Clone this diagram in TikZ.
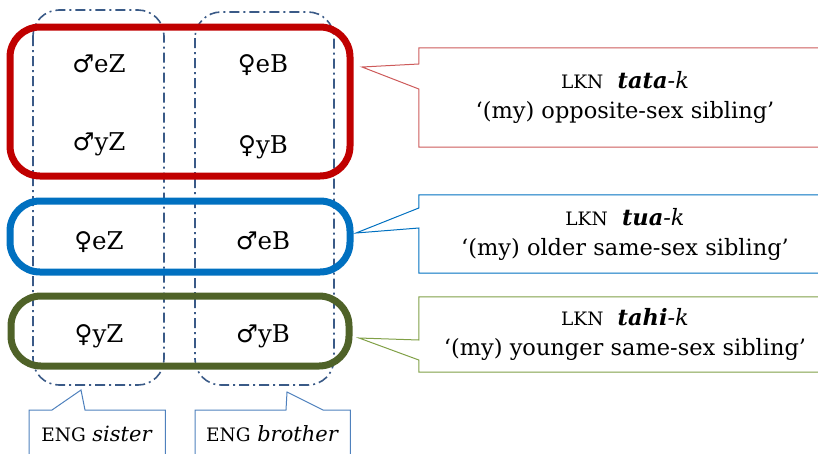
\documentclass[tikz,border=0pt]{standalone}
\usepackage{fontspec}
\setmainfont{DejaVu Serif}
\newfontfamily\symfont{DejaVu Sans}
\usetikzlibrary{calc}
\definecolor{grpred}{RGB}{192,0,0}
\definecolor{grpblue}{RGB}{0,112,192}
\definecolor{grpgreen}{RGB}{79,98,40}
\definecolor{colline}{RGB}{58,90,135}
\definecolor{tatared}{RGB}{205,90,90}
\definecolor{tahigreen}{RGB}{128,160,70}
\definecolor{engblue}{RGB}{79,129,189}
\newcommand{\msym}{{\symfont ♂}}
\newcommand{\fsym}{{\symfont ♀}}
\newcommand{\langtag}[1]{{\fontsize{18.5}{20}\selectfont #1}}

\begin{document}
\begin{tikzpicture}[x=1pt, y=-1pt,
    col/.style={colline, line width=1.6pt, rounded corners=26pt,
        dash pattern=on 10pt off 4pt on 2pt off 4pt},
    grp/.style={line width=7pt, rounded corners=30pt},
    kin/.style={anchor=base, font=\fontsize{24.5}{28}\selectfont},
    lkn/.style={align=center, font=\fontsize{22.5}{30}\selectfont,
        minimum width=412},
    eng/.style={anchor=base, font=\fontsize{21}{24}\selectfont},
    callout/.style={line width=1pt}]
    \useasboundingbox (0,0) rectangle (818,453);

    % English categories: sister / brother
    \draw[col] (33,10) rectangle (164,385);
    \draw[col] (195,12) rectangle (334,385);

    % Lakon categories
    \draw[grp, grpred] (10,27) rectangle (350,176);
    \draw[grp, grpblue] (10,201) rectangle (350,272);
    \draw[grp, grpgreen] (11,296) rectangle (349,366);

    \node[kin] (oez) at (99,72) {\msym eZ};
    \node[kin] (feb) at (263,72) {\fsym eB};
    \node[kin] (oyz) at (99,150) {\msym yZ};
    \node[kin] (fyb) at (263,153) {\fsym yB};
    \node[kin] (fez) at (99,249) {\fsym eZ};
    \node[kin] (meb) at (263,249) {\msym eB};
    \node[kin] (fyz) at (99,342) {\fsym yZ};
    \node[kin] (myb) at (263,342) {\msym yB};

    % callouts on the right
    \node[lkn, minimum height=99] (tata) at (625,97.5)
        {\langtag{LKN}\ \ \textbf{\textit{tata}}\textit{-k}\\‘(my) opposite-sex sibling’};
    \node[lkn, minimum height=78] (tua) at (625,234)
        {\langtag{LKN}\ \ \textbf{\textit{tua}}\textit{-k}\\‘(my) older same-sex sibling’};
    \node[lkn, minimum height=75] (tahi) at (625,334.5)
        {\langtag{LKN}\ \ \textbf{\textit{tahi}}\textit{-k}\\‘(my) younger same-sex sibling’};

    \coordinate (tatatip) at (362,67);
    \coordinate (tuatip) at (356,233);
    \coordinate (tahitip) at (359,338);

    \draw[callout, tatared] (tata.west |- 0,89) -- (tata.south west) -- (tata.south east)
        -- (tata.north east) -- (tata.north west) -- (tata.west |- 0,64) -- (tatatip) -- cycle;
    \draw[callout, grpblue] (tua.west |- 0,228) -- (tua.south west) -- (tua.south east)
        -- (tua.north east) -- (tua.north west) -- (tua.west |- 0,208) -- (tuatip) -- cycle;
    \draw[callout, tahigreen] (tahi.west |- 0,360) -- (tahi.south west) -- (tahi.south east)
        -- (tahi.north east) -- (tahi.north west) -- (tahi.west |- 0,340) -- (tahitip) -- cycle;

    % callouts below
    \coordinate (sistip) at (81,390);
    \coordinate (brotip) at (287,392);
    \node[minimum width=136, minimum height=60, anchor=north west] (sis) at (29,410) {};
    \node[minimum width=155, minimum height=60, anchor=north west] (bro) at (195,410) {};
    \node[eng] (sistext) at (97,441) {\langtag{ENG} \textit{sister}};
    \node[eng] (brotext) at (272.5,441) {\langtag{ENG} \textit{brother}};

    \draw[callout, engblue] (sis.south west) -- (sis.north west) -- (52,410) -- (sistip)
        -- (85,410) -- (sis.north east) -- (sis.south east);
    \draw[callout, engblue] (bro.south west) -- (bro.north west) -- (286,410) -- (brotip)
        -- (323,410) -- (bro.north east) -- (bro.south east);
\end{tikzpicture}
\end{document}
